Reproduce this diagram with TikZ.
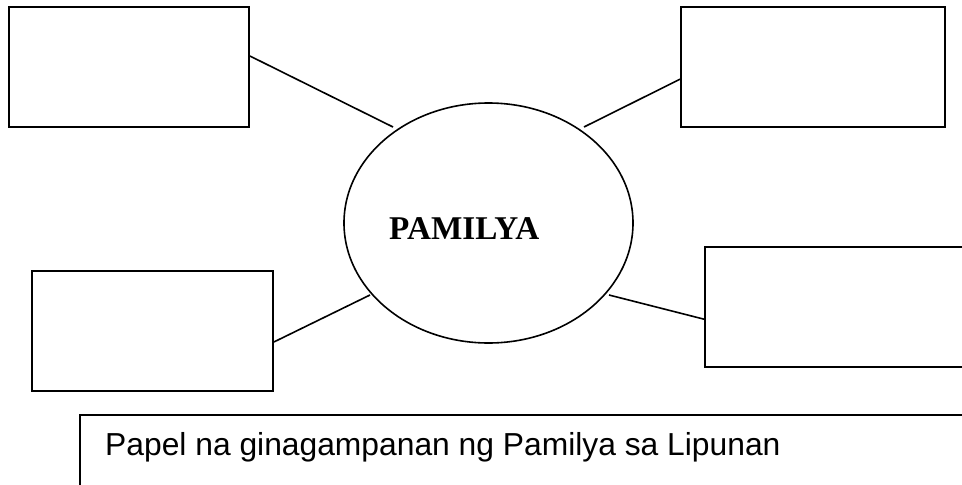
\documentclass[tikz,border=0pt]{standalone}
\usepackage{fontspec}
\setmainfont{Liberation Serif}
\newfontfamily\arialf{Liberation Sans}
\usetikzlibrary{calc,shapes.geometric}
\tikzset{
  blankbox/.style={draw=black, line width=1.9pt, rectangle, inner sep=0pt},
  link/.style={draw=black, line width=1.6pt},
}
\begin{document}
\begin{tikzpicture}[x=1pt,y=-1pt]
\clip (0,0) rectangle (962,485);
\fill[white] (0,0) rectangle (962,485);
% boxes
\node[blankbox, minimum width=240pt, minimum height=120pt] (tl) at (129,67) {};
\node[blankbox, minimum width=264pt, minimum height=120pt] (tr) at (813,67) {};
\node[blankbox, minimum width=241pt, minimum height=120pt] (bl) at (152.5,331) {};
\node[blankbox, minimum width=280pt, minimum height=120pt] (br) at (845,307) {};
\node[blankbox, minimum width=920pt, minimum height=105pt] (cap) at (540,467.5) {};
% ellipse
\node[draw=black, line width=1.6pt, ellipse, minimum width=289pt, minimum height=240pt, inner sep=0pt] (fam) at (488.5,223) {};
\node[anchor=base west, inner sep=0pt, font=\fontsize{33.2}{38}\selectfont\bfseries] (famtext) at (389,239) {PAMILYA};
\node[anchor=base west, inner sep=0pt, font=\arialf\fontsize{31.8}{36}\selectfont] (captext) at (105,455) {Papel na ginagampanan ng Pamilya sa Lipunan};
% connectors
\coordinate (e1) at (393,127);
\coordinate (e2) at (584,127);
\coordinate (e3) at (370,295);
\coordinate (e4) at (609,295);
\draw[link] ($(tl.north east)!0.41!(tl.south east)$) -- (e1);
\draw[link] ($(tr.north west)!0.6!(tr.south west)$) -- (e2);
\draw[link] ($(bl.north east)!0.59!(bl.south east)$) -- (e3);
\draw[link] ($(br.north west)!0.6!(br.south west)$) -- (e4);
\end{tikzpicture}
\end{document}
